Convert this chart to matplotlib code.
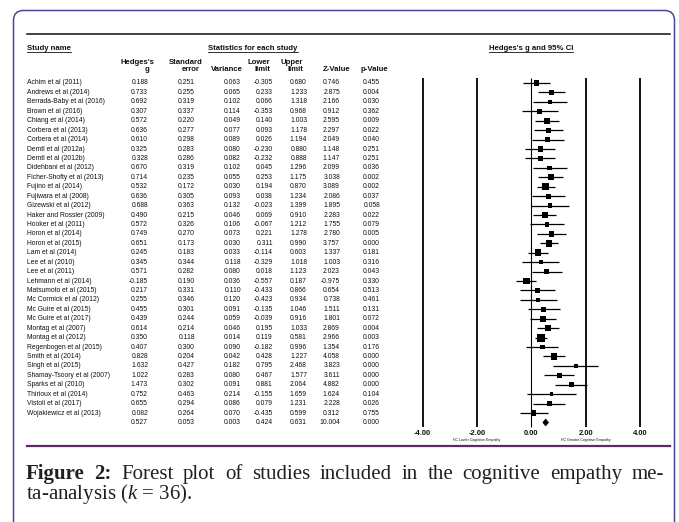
import numpy as np
import matplotlib.pyplot as plt
from matplotlib.patches import FancyBboxPatch, Polygon

plt.rcParams['mathtext.fontset'] = 'custom'
plt.rcParams['mathtext.rm'] = 'Liberation Serif'
plt.rcParams['mathtext.it'] = 'Liberation Serif:italic'

studies = ["Achim et al (2011)", "Andrews et al (2014)", "Berrada-Baby et al (2016)", "Brown et al (2016)",
           "Chiang et al (2014)", "Corbera et al (2013)", "Corbera et al (2014)", "Demtl et al (2012a)",
           "Demtl et al (2012b)", "Didehbani et al (2012)", "Ficher-Shofty et al (2013)", "Fujino et al (2014)",
           "Fujiwara et al (2008)", "Gizewski et al (2012)", "Haker and Rossler (2009)", "Hooker et al (2011)",
           "Horon et al (2014)", "Horon et al (2015)", "Lam et al (2014)", "Lee et al (2010)",
           "Lee et al (2011)", "Lehmann et al (2014)", "Matsumoto et al (2015)", "Mc Cormick et al (2012)",
           "Mc Guire et al (2015)", "Mc Guire et al (2017)", "Montag et al (2007)", "Montag et al (2012)",
           "Regenbogen et al (2015)", "Smith et al (2014)", "Singh et al (2015)", "Shamay-Tsoory et al (2007)",
           "Sparks et al (2010)", "Thirioux et al (2014)", "Vistoli et al (2017)", "Wojakiewicz et al (2013)"]
g = [0.188, 0.733, 0.692, 0.307, 0.572, 0.636, 0.610, 0.325, 0.328, 0.670, 0.714, 0.532,
     0.636, 0.688, 0.490, 0.572, 0.749, 0.651, 0.245, 0.345, 0.571, -0.185, 0.217, 0.255,
     0.455, 0.439, 0.614, 0.350, 0.407, 0.828, 1.632, 1.022, 1.473, 0.752, 0.655, 0.082]
se = [0.251, 0.255, 0.319, 0.337, 0.220, 0.277, 0.298, 0.283, 0.286, 0.319, 0.235, 0.172,
      0.305, 0.363, 0.215, 0.326, 0.270, 0.173, 0.183, 0.344, 0.282, 0.190, 0.331, 0.346,
      0.301, 0.244, 0.214, 0.118, 0.300, 0.204, 0.427, 0.283, 0.302, 0.463, 0.294, 0.264]
var = [0.063, 0.065, 0.102, 0.114, 0.049, 0.077, 0.089, 0.080, 0.082, 0.102, 0.055, 0.030,
       0.093, 0.132, 0.046, 0.106, 0.073, 0.030, 0.033, 0.118, 0.080, 0.036, 0.110, 0.120,
       0.091, 0.059, 0.046, 0.014, 0.090, 0.042, 0.182, 0.080, 0.091, 0.214, 0.086, 0.070]
lower = [-0.305, 0.233, 0.066, -0.353, 0.140, 0.093, 0.026, -0.230, -0.232, 0.045, 0.253, 0.194,
         0.038, -0.023, 0.069, -0.067, 0.221, 0.311, -0.114, -0.329, 0.018, -0.557, -0.433, -0.423,
         -0.135, -0.039, 0.195, 0.119, -0.182, 0.428, 0.795, 0.467, 0.881, -0.155, 0.079, -0.435]
upper = [0.680, 1.233, 1.318, 0.968, 1.003, 1.178, 1.194, 0.880, 0.888, 1.296, 1.175, 0.870,
         1.234, 1.399, 0.910, 1.212, 1.278, 0.990, 0.603, 1.018, 1.123, 0.187, 0.866, 0.934,
         1.046, 0.916, 1.033, 0.581, 0.996, 1.227, 2.468, 1.577, 2.064, 1.659, 1.231, 0.599]
zval = [0.746, 2.875, 2.166, 0.912, 2.595, 2.297, 2.049, 1.148, 1.147, 2.099, 3.038, 3.089,
        2.086, 1.895, 2.283, 1.755, 2.780, 3.757, 1.337, 1.003, 2.023, -0.975, 0.654, 0.738,
        1.511, 1.801, 2.869, 2.966, 1.354, 4.058, 3.823, 3.611, 4.882, 1.624, 2.228, 0.312]
pval = [0.455, 0.004, 0.030, 0.362, 0.009, 0.022, 0.040, 0.251, 0.251, 0.036, 0.002, 0.002,
        0.037, 0.058, 0.022, 0.079, 0.005, 0.000, 0.181, 0.316, 0.043, 0.330, 0.513, 0.461,
        0.131, 0.072, 0.004, 0.003, 0.176, 0.000, 0.000, 0.000, 0.000, 0.104, 0.026, 0.755]
# pooled row: g, se, var, lower, upper, z, p
summary = [0.527, 0.053, 0.003, 0.424, 0.631, 10.004, 0.000]

ticks = [-4, -2, 0, 2, 4]
tick_labels = ["-4.00", "-2.00", "0.00", "2.00", "4.00"]

W, H = 679, 522
sans = 'Liberation Sans'
serif = 'Liberation Serif'
y0, dy = 83, 9.43   # pixel row layout
n = len(studies)

fig = plt.figure(figsize=(W / 100, H / 100), dpi=100)
bg = fig.add_axes([0, 0, 1, 1])
bg.set_xlim(0, W)
bg.set_ylim(H, 0)
bg.axis('off')

# rounded frame, open at bottom
frame = FancyBboxPatch((13.5, 10.5), 661, 560, boxstyle="round,pad=0,rounding_size=10",
                       fc='white', ec='#4a4794', lw=1.1, zorder=0)
bg.add_patch(frame)
bg.plot([27, 670], [34.3, 34.3], color='#111111', lw=1.1)
bg.plot([27, 670], [445.5, 445.5], color='#5d2b63', lw=1.6)

# headers
hdr = dict(fontfamily=sans, fontweight='bold', fontsize=5.6, color='#111111', va='center')
t_study = bg.text(27, 48, "Study name", ha='left', **hdr)
t_stats = bg.text(253, 48, "Statistics for each study", ha='center', **hdr)
t_ci = bg.text(531, 48.5, "Hedges's g and 95% CI", ha='center', **hdr)

bg.text(137, 62.5, "Hedges's", ha='center', **hdr)
bg.text(147, 69.5, "g", ha='center', **hdr)
bg.text(203, 62.5, "Standard", ha='right', **hdr)
bg.text(200, 69.5, "error", ha='right', **hdr)
bg.text(243, 69.5, "Variance", ha='right', **hdr)
bg.text(270, 62.5, "Lower", ha='right', **hdr)
bg.text(270, 69.5, "limit", ha='right', **hdr)
bg.text(303, 62.5, "Upper", ha='right', **hdr)
bg.text(303, 69.5, "limit", ha='right', **hdr)
bg.text(350, 69.5, "Z-Value", ha='right', **hdr)
bg.text(388, 69.5, "p-Value", ha='right', **hdr)

# table rows
row = dict(fontfamily=sans, fontsize=4.9, color='#111111', va='center')
col_right = [148, 195, 241, 273, 307, 340, 380]
for i in range(n):
    y = y0 + i * dy
    bg.text(27, y, studies[i], ha='left', **row)
    vals = [g[i], se[i], var[i], lower[i], upper[i], zval[i], pval[i]]
    for xr, v in zip(col_right, vals):
        bg.text(xr, y, f"{v:.3f}", ha='right', **row)
ys = y0 + n * dy
for xr, v in zip(col_right, summary):
    bg.text(xr, ys, f"{v:.3f}", ha='right', **row)

# forest plot axes, x in effect size units, y in row units
px_unit = (640 - 422.7) / 8
x_zero = 531.35
ax = fig.add_axes([0, 0, 1, 1])
ax.set_xlim(-x_zero / px_unit, (W - x_zero) / px_unit)
ax.set_ylim((H - y0) / dy, -y0 / dy)
ax.patch.set_alpha(0)
ax.axis('off')

top_r = (78 - y0) / dy
bot_r = (426.5 - y0) / dy
for t in ticks:
    ax.vlines(t, top_r, bot_r, color='black', lw=0.8 if t == 0 else 1.3)
rows = np.arange(n)
ax.hlines(rows, lower, upper, color='black', lw=0.9)

# box size from random-effects style weight
w = 1 / (np.array(var) + 0.03)
side = 5.8 * np.sqrt(w / w.max())
ax.scatter(g, rows, marker='s', s=side ** 2, color='black', linewidths=0, zorder=3)

sg, sl, su = summary[0], summary[3], summary[4]
diamond = Polygon([(sl, n), (sg, n - 0.36), (su, n), (sg, n + 0.36)], closed=True,
                  fc='black', ec='black', lw=0.5)
ax.add_patch(diamond)

tick_r = (433.5 - y0) / dy
for t, lab in zip(ticks, tick_labels):
    ax.text(t, tick_r, lab, ha='center', va='center', fontfamily=sans, fontweight='bold',
            fontsize=5.4, color='#111111')
sub_r = (440 - y0) / dy
ax.text(-2, sub_r, "HC Lower Cognitive Empathy", ha='center', va='center', fontfamily=sans,
        fontsize=2.6, color='#111111')
ax.text(2, sub_r, "HC Greater Cognitive Empathy", ha='center', va='center', fontfamily=sans,
        fontsize=2.6, color='#111111')

# caption, first line justified word by word
cap = dict(fontfamily=serif, fontsize=15, color='#231f20', va='baseline')
line1 = "Figure 2: Forest plot of studies included in the cognitive empathy me-".split()
words = []
for k, wd in enumerate(line1):
    words.append(bg.text(0, 479, wd, ha='left', fontweight='bold' if k < 2 else 'normal', **cap))
bg.text(26, 499.5, "ta-analysis ($k$ = 36).", ha='left', **cap)

fig.canvas.draw()
r = fig.canvas.get_renderer()
inv = bg.transData.inverted()


def xw(t):
    bb = t.get_window_extent(r)
    (a, _), (b, _) = inv.transform([[bb.x0, bb.y0], [bb.x1, bb.y1]])
    return b - a


widths = [xw(t) for t in words]
left, right = 26, 664
gap = (right - left - sum(widths)) / (len(words) - 1)
x = left
for t, wd in zip(words, widths):
    t.set_x(x)
    x += wd + gap

# underlines on the section headers
for t in [t_study, t_stats, t_ci]:
    bb = t.get_window_extent(r)
    (a, yb), (b, _) = inv.transform([[bb.x0, bb.y0], [bb.x1, bb.y1]])
    bg.plot([a, b], [yb + 0.3, yb + 0.3], color='#111111', lw=0.6)

fig.savefig('out.png', dpi=100)
